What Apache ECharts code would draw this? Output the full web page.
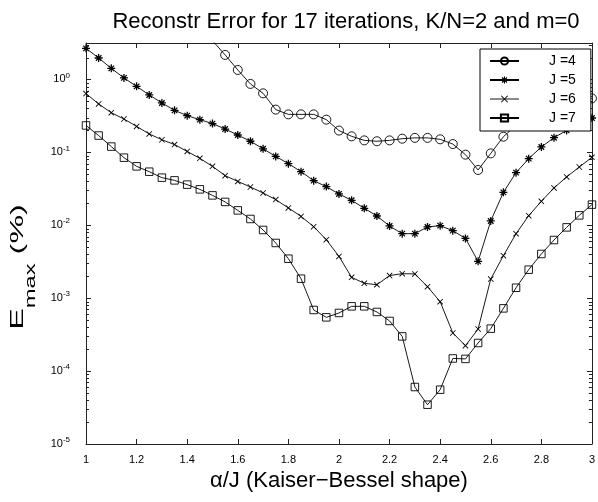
<!DOCTYPE html>
<html><head><meta charset="utf-8">
<script src="https://cdn.jsdelivr.net/npm/echarts@6/dist/echarts.min.js"></script>
<style>html,body{margin:0;padding:0;background:#fff}#c{width:598px;height:502px}</style>
</head><body><div id="c"></div>
<script>
// x positions: alpha / J
const alphaJ = [1.00,1.05,1.10,1.15,1.20,1.25,1.30,1.35,1.40,1.45,1.50,1.55,1.60,1.65,1.70,1.75,1.80,1.85,1.90,1.95,
                2.00,2.05,2.10,2.15,2.20,2.25,2.30,2.35,2.40,2.45,2.50,2.55,2.60,2.65,2.70,2.75,2.80,2.85,2.90,2.95,3.00];
// E_max (%) values
const errJ4 = [null,null,null,null,null,null,null,null,null,null,
               3.4,2.17,1.35,0.868,0.645,0.386,0.332,0.332,0.332,0.281,
               0.199,0.166,0.146,0.142,0.146,0.154,0.158,0.158,0.151,0.130,
               0.093,0.0573,0.0969,0.164,0.235,0.30,0.36,0.42,0.47,0.51,0.55];
const errJ5 = [2.67,1.97,1.42,1.05,0.804,0.613,0.476,0.377,0.319,0.281,
               0.248,0.209,0.173,0.142,0.112,0.0881,0.070,0.0544,0.0409,0.0339,
               0.0269,0.0220,0.0171,0.0134,0.00978,0.00767,0.00767,0.00948,0.00988,0.00844,
               0.00661,0.0032,0.01146,0.0283,0.0527,0.082,0.1186,0.159,0.200,0.244,0.296];
const errJ6 = [0.64,0.461,0.35,0.287,0.227,0.179,0.149,0.128,0.103,0.0828,
               0.0643,0.0479,0.040,0.0335,0.0277,0.0225,0.0173,0.01324,0.00957,0.00634,
               0.00374,0.00193,0.0016,0.00153,0.00204,0.00217,0.00215,0.00144,0.000895,0.000333,
               0.000223,0.000378,0.00183,0.00383,0.00767,0.01355,0.0213,0.0325,0.046,0.063,0.0854];
const errJ7 = [0.234,0.170,0.120,0.0846,0.0643,0.0543,0.0450,0.0413,0.0361,0.0311,
               0.0257,0.0209,0.0160,0.0122,0.00862,0.00572,0.00348,0.00185,0.000689,0.000546,
               0.000627,0.000773,0.000773,0.000647,0.000487,0.000299,0.0000605,0.0000346,0.0000556,0.000149,
               0.000147,0.000243,0.000382,0.000725,0.00139,0.00246,0.00404,0.00628,0.00936,0.01367,0.0192];
const seriesNames = ['J =4','J =5','J =6','J =7'];
const xTickStep = 0.2;
const xMin = 1, xMax = 3;
const yMin = 1e-5, yMax = Math.pow(10, 0.5);

const FONT = 'Liberation Sans, Arial, Helvetica, sans-serif';
const toPairs = arr => alphaJ.map((x,i)=>[x, arr[i]]).filter(p => p[1] != null);

// minor log ticks (2..9 x 10^e)
const minorVals = [];
for (let e = -5; e <= 0; e++) for (let k = 2; k <= 9; k++) { const v = k*Math.pow(10,e); if (v < yMax) minorVals.push(v); }

const asterisk = 'path://M4.2 0H5.8V10H4.2Z M0 4.2H10V5.8H0Z M1 2.1L2.1 1L9 7.9L7.9 9Z M7.9 1L9 2.1L2.1 9L1 7.9Z';
const cross = 'path://M0 1L1 0L10 9L9 10Z M9 0L10 1L1 10L0 9Z';

const lineCol = '#000';
const axisCol = '#222';

function yLabel(v){
  const l = Math.log10(v); const e = Math.round(l);
  if (Math.abs(l - e) > 1e-6) return '';
  return '{b|10}{s|' + e + '}';
}

const baseX = {type:'value', min:xMin, max:xMax, interval:xTickStep, splitLine:{show:false},
  axisLine:{show:true, lineStyle:{color:axisCol, width:1}},
  axisTick:{show:true, inside:true, length:5, lineStyle:{color:axisCol}}};
const baseY = {type:'log', logBase:10, min:yMin, max:yMax, interval:1, splitLine:{show:false},
  axisLine:{show:true, lineStyle:{color:axisCol, width:1}},
  axisTick:{show:true, inside:true, length:5, lineStyle:{color:axisCol}}};

const option = {
  animation:false,
  backgroundColor:'#fff',
  title:{text:'Reconstr Error for 17 iterations, K/N=2 and m=0', left:341, top:6, textAlign:'center',
    textStyle:{fontFamily:FONT, fontSize:22, fontWeight:'normal', color:'#000'}},
  grid:{left:86, right:2, top:43, bottom:58, containLabel:false},
  legend:{orient:'vertical', left:480, top:49, padding:[5,15,6,9], itemGap:5, itemWidth:29, itemHeight:9,
    backgroundColor:'#fff', borderColor:'#000', borderWidth:1, borderRadius:0, z:10,
    textStyle:{fontFamily:FONT, fontSize:14, color:'#000', padding:[0,0,0,25], lineHeight:14},
    data:[{name:seriesNames[0]},{name:seriesNames[1]},
          {name:seriesNames[2], lineStyle:{color:'#8a8a8a'}},{name:seriesNames[3]}]},
  xAxis:[
    Object.assign({}, baseX, {position:'bottom',
      axisLabel:{show:true, margin:10, fontFamily:FONT, fontSize:11, color:'#000'},
      name:'\u03b1/J (Kaiser\u2212Bessel shape)', nameLocation:'middle', nameGap:25,
      nameTextStyle:{fontFamily:FONT, fontSize:22, color:'#000'}}),
    Object.assign({}, baseX, {position:'top', axisLabel:{show:false}})
  ],
  yAxis:[
    Object.assign({}, baseY, {position:'left',
      axisLabel:{show:true, margin:16, formatter:yLabel,
        rich:{b:{fontFamily:FONT, fontSize:11, color:'#000', lineHeight:16},
              s:{fontFamily:FONT, fontSize:8, color:'#000', lineHeight:8, verticalAlign:'top'}}}}),
    Object.assign({}, baseY, {position:'right', axisLabel:{show:false}})
  ],
  graphic:[{type:'text', x:18, y:267, rotation:Math.PI/2, scaleX:1.7, scaleY:1,
    style:{text:'{e|E}{s|max}{e| (%)}', align:'center', verticalAlign:'middle', fill:'#000',
      rich:{e:{fontFamily:FONT, fontSize:19, lineHeight:40, fill:'#000'},
            s:{fontFamily:FONT, fontSize:14, lineHeight:14, verticalAlign:'bottom', fill:'#000'}}}}],
  series:[
    {name:'minorTicks', type:'custom', coordinateSystem:'cartesian2d', silent:true, z:2,
     xAxisIndex:0, yAxisIndex:0, clip:false,
     data:minorVals.map(v => [xMin, v]),
     renderItem:function(params, api){
       const pl = api.coord([xMin, api.value(1)]);
       const pr = api.coord([xMax, api.value(1)]);
       const y = Math.round(pl[1]) + 0.5;
       return {type:'group', children:[
         {type:'line', shape:{x1:pl[0], y1:y, x2:pl[0]+3, y2:y}, style:{stroke:axisCol, lineWidth:1}},
         {type:'line', shape:{x1:pr[0], y1:y, x2:pr[0]-3, y2:y}, style:{stroke:axisCol, lineWidth:1}}
       ]};
     }},
    {name:seriesNames[0], type:'line', data:toPairs(errJ4), symbol:'circle', symbolSize:9,
     itemStyle:{color:'rgba(0,0,0,0)', borderColor:lineCol, borderWidth:0.9},
     lineStyle:{color:lineCol, width:0.9}},
    {name:seriesNames[1], type:'line', data:toPairs(errJ5), symbol:asterisk, symbolSize:8,
     itemStyle:{color:lineCol}, lineStyle:{color:lineCol, width:0.9}},
    {name:seriesNames[2], type:'line', data:toPairs(errJ6), symbol:cross, symbolSize:6,
     itemStyle:{color:lineCol}, lineStyle:{color:lineCol, width:0.9}},
    {name:seriesNames[3], type:'line', data:toPairs(errJ7), symbol:'rect', symbolSize:7.5,
     itemStyle:{color:'rgba(0,0,0,0)', borderColor:lineCol, borderWidth:0.9},
     lineStyle:{color:lineCol, width:0.9}}
  ]
};
const chart = echarts.init(document.getElementById('c'), null, {renderer:'canvas'});
chart.setOption(option);
</script></body></html>
